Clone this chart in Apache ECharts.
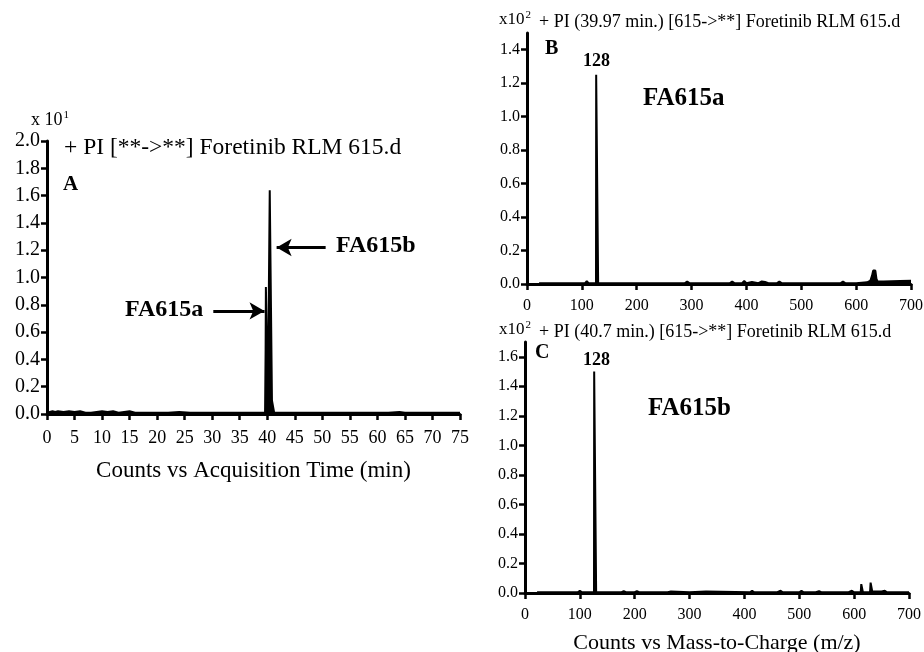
<!DOCTYPE html>
<html><head><meta charset="utf-8">
<script src="https://cdn.jsdelivr.net/npm/echarts@6/dist/echarts.min.js"></script>
<style>html,body{margin:0;padding:0;background:#fff}#c{width:924px;height:652px}</style>
</head><body><div id="c"></div>
<script>
// Panel A: total ion chromatogram (time in min, counts x10^1)
const timeA = [0,0.5,1,1.5,2,3,4,5,6,7,8,9,10,11,12,13,14,15,16,17,18,20,22,24,26,28,30,32,34,36,38,39,39.6,39.7,39.75,40.05,40.1,40.3,40.4,40.45,40.8,40.85,41.0,41.2,41.25,41.5,42,44,46,48,50,52,54,56,58,60,62,64,65,66,68,70,72,74,75];
const countsA = [0.01,0.015,0.02,0.015,0.02,0.015,0.02,0.015,0.02,0.01,0.01,0.015,0.02,0.015,0.02,0.01,0.015,0.02,0.01,0.01,0.01,0.01,0.01,0.015,0.01,0.01,0.01,0.01,0.01,0.01,0.01,0.01,0.01,0.47,0.93,0.93,0.05,0.05,0.05,1.64,1.64,0.1,0.1,0.1,0.01,0.01,0.01,0.01,0.01,0.01,0.01,0.01,0.01,0.01,0.01,0.01,0.01,0.015,0.01,0.01,0.01,0.01,0.01,0.01,0.01];
const ticksA = [0,5,10,15,20,25,30,35,40,45,50,55,60,65,70,75];
// Panel B: spectrum at 39.97 min (counts x10^2)
const mzB = [22,40,60,80,100,106,109,112,120,125.8,126.1,129.4,129.7,136,141,144,150,200,258,261,264,288,292,296,330,370,374,378,392,396,400,410,422,428,434,440,456,460,464,500,540,572,576,580,600,620,626,629,631,633,635,637,639,650,680,700];
const intB = [0.005,0.005,0.005,0.005,0.005,0.005,0.018,0.005,0.005,0.005,1.25,1.25,0.005,0.005,0.005,0.015,0.005,0.005,0.005,0.012,0.005,0.005,0.015,0.005,0.005,0.005,0.015,0.005,0.005,0.018,0.005,0.012,0.005,0.015,0.012,0.005,0.005,0.015,0.005,0.005,0.005,0.005,0.015,0.005,0.005,0.01,0.02,0.05,0.08,0.09,0.08,0.03,0.015,0.015,0.018,0.02];
// Panel C: spectrum at 40.7 min (counts x10^2)
const mzC = [22,40,60,80,96,100,104,120,125.8,126.1,129.4,129.7,140,176,180,184,200,204,208,260,266,300,330,410,414,418,460,466,470,500,504,508,530,536,540,590,596,600,612,613,615,616,629,630,632,633,650,656,660,680,700];
const intC = [0.005,0.005,0.005,0.005,0.005,0.015,0.005,0.005,0.005,1.5,1.5,0.005,0.005,0.005,0.012,0.005,0.005,0.012,0.005,0.005,0.01,0.005,0.01,0.005,0.015,0.005,0.005,0.015,0.005,0.005,0.015,0.005,0.005,0.012,0.005,0.005,0.015,0.005,0.005,0.06,0.06,0.005,0.005,0.07,0.07,0.01,0.01,0.015,0.005,0.005,0.005];
const ticksY_A = [0,0.2,0.4,0.6,0.8,1.0,1.2,1.4,1.6,1.8,2.0];
const ticksY_B = [0,0.2,0.4,0.6,0.8,1.0,1.2,1.4];
const ticksY_C = [0,0.2,0.4,0.6,0.8,1.0,1.2,1.4,1.6];
const ticksMZ = [0,100,200,300,400,500,600,700];

const F = 'Liberation Serif';
const pair = (xs, ys) => xs.map((x, i) => [x, ys[i]]);
const axisLine = {show: true, lineStyle: {color: '#000', width: 3}};
const axisTick = {show: true, length: 6, lineStyle: {color: '#000', width: 2.5}};

function xAx(gi, max, ticks, fs, margin, name, gap, nfs) {
  return {type: 'value', gridIndex: gi, min: 0, max: max, interval: ticks[1]-ticks[0],
    axisLine, axisTick, splitLine: {show: false},
    axisLabel: {color: '#000', fontFamily: F, fontSize: fs, margin: margin},
    name: name || '', nameLocation: 'middle', nameGap: gap || 30,
    nameTextStyle: {color: '#000', fontFamily: F, fontSize: nfs || 23}};
}
function yAx(gi, max, ticks, fs) {
  return {type: 'value', gridIndex: gi, min: 0, max: max,
    axisLine, splitLine: {show: false},
    axisTick: Object.assign({customValues: ticks}, axisTick),
    axisLabel: {color: '#000', fontFamily: F, fontSize: fs, margin: 7, customValues: ticks,
      formatter: v => v.toFixed(1)}};
}
const lineS = (xi, data) => ({type: 'line', xAxisIndex: xi, yAxisIndex: xi, data: data,
  showSymbol: false, symbol: 'none', lineStyle: {color: '#000', width: 2},
  areaStyle: {color: '#000', opacity: 1}, silent: true, animation: false});

const seriesA = lineS(0, pair(timeA, countsA));
seriesA.markLine = {silent: true, animation: false, symbol: ['none', 'arrow'], symbolSize: [13, 15],
  lineStyle: {color: '#000', width: 3, type: 'solid'}, label: {show: false},
  data: [
    [{coord: [50.6, 1.22]}, {coord: [41.7, 1.22]}],
    [{coord: [30.2, 0.755]}, {coord: [39.5, 0.755]}]
  ]};

const sup = (a, s, fa, fs) => ({text: '{a|' + a + '}{s|' + s + '}', rich: {
  a: {fontFamily: F, fontSize: fa, fill: '#000'},
  s: {fontFamily: F, fontSize: fs, fill: '#000', verticalAlign: 'top', padding: [0, 0, 9, 1]}}});
const txt = (left, top, text, fs, bold) => ({type: 'text', left: left, top: top,
  style: {text: text, fontFamily: F, fontSize: fs, fontWeight: bold ? 'bold' : 'normal', fill: '#000'}});

const option = {
  backgroundColor: '#fff',
  animation: false,
  grid: [
    {left: 47, top: 141, width: 413, height: 273, outerBoundsMode: 'none'},
    {left: 527, top: 33, width: 384, height: 251, outerBoundsMode: 'none'},
    {left: 525, top: 342, width: 384, height: 251, outerBoundsMode: 'none'}
  ],
  xAxis: [
    xAx(0, 75, ticksA, 18, 15, 'Counts vs Acquisition Time (min)', 45, 23),
    xAx(1, 700, ticksMZ, 16, 14),
    xAx(2, 700, ticksMZ, 16, 14, 'Counts vs Mass-to-Charge (m/z)', 39, 22)
  ],
  yAxis: [yAx(0, 2.0, ticksY_A, 20), yAx(1, 1.5, ticksY_B, 16), yAx(2, 1.7, ticksY_C, 16)],
  series: [seriesA, lineS(1, pair(mzB, intB)), lineS(2, pair(mzC, intC))],
  graphic: [
    {type: 'text', left: 31, top: 110, style: sup('x 10', '1', 18, 11)},
    txt(64, 136, '+ PI [**->**] Foretinib RLM 615.d', 23.5),
    txt(63, 174, 'A', 21, true),
    txt(336, 234, 'FA615b', 24, true),
    txt(125, 298, 'FA615a', 24, true),
    {type: 'text', left: 499, top: 10, style: sup('x10', '2', 17, 11)},
    txt(539, 13, '+ PI (39.97 min.) [615->**] Foretinib RLM 615.d', 18),
    txt(545, 39, 'B', 20, true),
    txt(583, 52, '128', 18, true),
    txt(643, 86, 'FA615a', 25, true),
    {type: 'text', left: 499, top: 320, style: sup('x10', '2', 17, 11)},
    txt(539, 323, '+ PI (40.7 min.) [615->**] Foretinib RLM 615.d', 18),
    txt(535, 343, 'C', 20, true),
    txt(583, 351, '128', 18, true),
    txt(648, 396, 'FA615b', 25, true)
  ]
};
const chart = echarts.init(document.getElementById('c'), null, {renderer: 'canvas'});
chart.setOption(option);
</script></body></html>
